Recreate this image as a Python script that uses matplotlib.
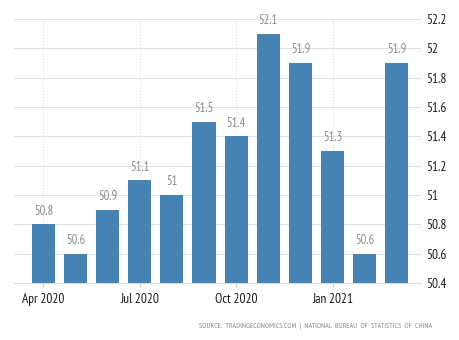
import numpy as np
import matplotlib.pyplot as plt

months = ["Apr 2020", "May 2020", "Jun 2020", "Jul 2020", "Aug 2020", "Sep 2020",
          "Oct 2020", "Nov 2020", "Dec 2020", "Jan 2021", "Feb 2021", "Mar 2021"]
values = [50.8, 50.6, 50.9, 51.1, 51.0, 51.5, 51.4, 52.1, 51.9, 51.3, 50.6, 51.9]
tick_labels = ["Apr 2020", "Jul 2020", "Oct 2020", "Jan 2021"]
y_ticks = [50.4, 50.6, 50.8, 51.0, 51.2, 51.4, 51.6, 51.8, 52.0, 52.2]

plt.rcParams['font.family'] = ['PT Sans Narrow', 'DejaVu Sans']

fig = plt.figure(figsize=(4.6, 3.4), dpi=100)
ax = fig.add_axes([0.030, 0.168, 0.885, 0.776])

x = np.arange(len(months))
base = y_ticks[0]
ax.bar(x, np.array(values) - base, bottom=base, width=0.72, color='#4682b4', zorder=3)

for xi, v in zip(x, values):
    ax.text(xi, v + 0.045, f"{v:g}", ha='center', va='bottom', fontsize=9, color='#8a8a8a')

ax.set_ylim(50.4, 52.2)
ax.set_xlim(-0.92, 11.75)
ax.yaxis.tick_right()
ax.set_yticks(y_ticks)
ax.set_yticklabels([f"{t:g}" for t in y_ticks])
ax.tick_params(axis='y', length=0, pad=4, labelsize=9.5, labelcolor='#1a1a1a')

xticks = [months.index(t) for t in tick_labels]
ax.set_xticks(xticks)
ax.set_xticklabels(tick_labels)
ax.tick_params(axis='x', length=3, color='#cccccc', pad=4, labelsize=9.5, labelcolor='#1a1a1a')

ax.grid(axis='y', color='#e2e2e2', linewidth=0.8, zorder=0)
ax.grid(axis='x', color='#dddddd', linewidth=0.8, linestyle=':', zorder=0)

for side in ['top', 'right', 'left']:
    ax.spines[side].set_visible(False)
ax.spines['bottom'].set_color('#dddddd')

fig.text(0.94, 0.03, "SOURCE:  TRADINGECONOMICS.COM  |  NATIONAL  BUREAU  OF  STATISTICS  OF  CHINA",
         ha='right', va='bottom', fontsize=5.5, color='#8a8a8a')

fig.savefig("out.png", dpi=100)
